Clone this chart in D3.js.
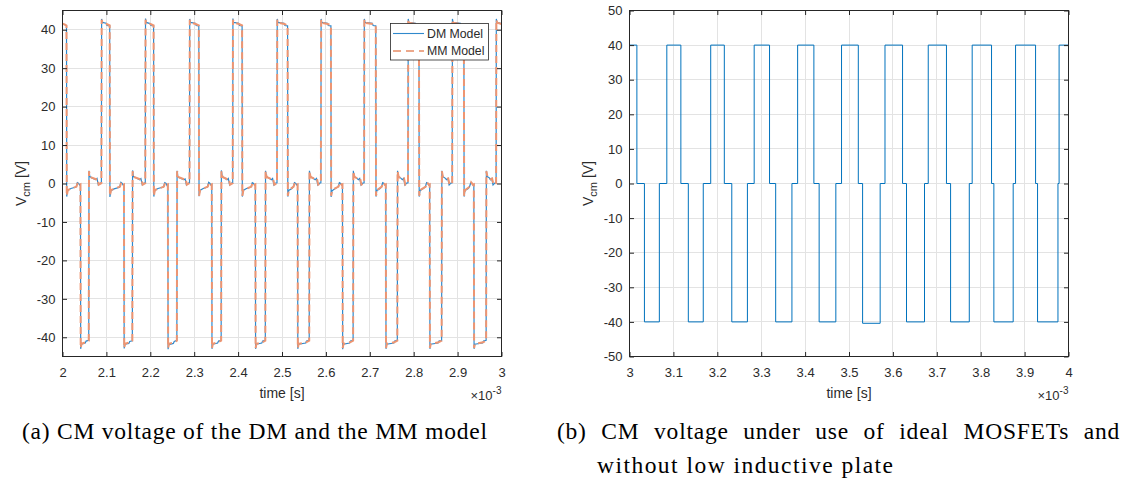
<!DOCTYPE html>
<html>
<head>
<meta charset="utf-8">
<script src="https://cdn.jsdelivr.net/npm/d3@7"></script>
<style>
  html, body { margin: 0; padding: 0; background: #fff; }
  svg { display: block; }
</style>
</head>
<body>
<svg id="fig" width="1136" height="482"></svg>
<script>
// ---------------------------------------------------------------
// Panel (a): common-mode voltage, DM model vs MM model
// time in ms (axis shown as x 10^-3 s), voltage in V
// ---------------------------------------------------------------
const dmModel = [
  [2.0000, 41.5], [2.0060, 41.3],
  [2.0091, 41.0], [2.0096, -3.4], [2.0116, -1.8], [2.0191, -1.3], [2.0309, -0.9], [2.0339, 0.2], [2.0369, 0.0], [2.0389, -0.4], [2.0409, -0.3],
  [2.0414, -43.0], [2.0429, -41.8], [2.0518, -41.5], [2.0538, -41.0], [2.0598, -40.8],
  [2.0603, 3.3], [2.0623, 1.8], [2.0678, 1.4], [2.0756, 1.0], [2.0786, 1.3], [2.0816, -0.4], [2.0856, 0.1], [2.0886, 0.2],
  [2.0891, 42.8], [2.0906, 41.9], [2.0995, 41.7], [2.1015, 41.1],
  [2.1075, 41.0], [2.1080, -3.5], [2.1100, -1.9], [2.1175, -1.4], [2.1300, -1.0], [2.1330, 0.3], [2.1360, 0.0], [2.1380, -0.4], [2.1400, -0.3],
  [2.1405, -42.9], [2.1420, -41.8], [2.1511, -41.6], [2.1531, -41.1], [2.1591, -40.9],
  [2.1596, 3.4], [2.1616, 1.8], [2.1671, 1.5], [2.1756, 1.0], [2.1786, 1.3], [2.1816, -0.3], [2.1856, 0.1], [2.1886, 0.2],
  [2.1891, 42.9], [2.1906, 41.9], [2.1995, 41.6], [2.2015, 41.1],
  [2.2075, 41.0], [2.2080, -3.4], [2.2100, -1.8], [2.2175, -1.3], [2.2300, -0.9], [2.2330, 0.2], [2.2360, 0.0], [2.2380, -0.5], [2.2400, -0.3],
  [2.2405, -43.1], [2.2420, -41.9], [2.2525, -41.6], [2.2545, -41.1], [2.2605, -40.8],
  [2.2610, 3.3], [2.2630, 1.7], [2.2685, 1.4], [2.2763, 1.0], [2.2793, 1.2], [2.2823, -0.4], [2.2863, 0.1], [2.2893, 0.2],
  [2.2898, 42.8], [2.2913, 41.9], [2.3025, 41.7], [2.3045, 41.1],
  [2.3105, 41.0], [2.3110, -3.3], [2.3130, -1.8], [2.3205, -1.3], [2.3300, -0.9], [2.3330, 0.3], [2.3360, 0.0], [2.3380, -0.4], [2.3400, -0.3],
  [2.3405, -43.0], [2.3420, -41.8], [2.3534, -41.5], [2.3554, -41.0], [2.3614, -40.8],
  [2.3619, 3.4], [2.3639, 1.8], [2.3694, 1.4], [2.3747, 1.0], [2.3777, 1.3], [2.3807, -0.4], [2.3847, 0.1], [2.3877, 0.2],
  [2.3882, 42.9], [2.3897, 41.9], [2.4011, 41.7], [2.4031, 41.1],
  [2.4091, 41.0], [2.4096, -3.4], [2.4116, -1.8], [2.4191, -1.3], [2.4293, -0.9], [2.4323, 0.2], [2.4353, 0.0], [2.4373, -0.4], [2.4393, -0.3],
  [2.4398, -43.0], [2.4413, -41.8], [2.4540, -41.5], [2.4560, -41.0], [2.4620, -40.8],
  [2.4625, 3.3], [2.4645, 1.8], [2.4700, 1.4], [2.4756, 1.0], [2.4786, 1.3], [2.4816, -0.4], [2.4856, 0.1], [2.4886, 0.2],
  [2.4891, 42.8], [2.4906, 41.9], [2.5047, 41.7], [2.5067, 41.1],
  [2.5127, 41.0], [2.5132, -3.4], [2.5152, -1.8], [2.5227, -1.3], [2.5255, -0.9], [2.5285, 0.2], [2.5315, 0.0], [2.5335, -0.4], [2.5355, -0.3],
  [2.5360, -43.0], [2.5375, -41.8], [2.5540, -41.5], [2.5560, -41.0], [2.5620, -40.8],
  [2.5625, 3.3], [2.5645, 1.8], [2.5700, 1.4], [2.5756, 1.0], [2.5786, 1.3], [2.5816, -0.4], [2.5856, 0.1], [2.5886, 0.2],
  [2.5891, 42.8], [2.5906, 41.9], [2.6034, 41.7], [2.6054, 41.1],
  [2.6114, 41.0], [2.6119, -3.5], [2.6139, -1.9], [2.6214, -1.3], [2.6277, -0.9], [2.6307, 0.2], [2.6337, 0.0], [2.6357, -0.4], [2.6377, -0.3],
  [2.6382, -43.1], [2.6397, -41.8], [2.6540, -41.5], [2.6560, -41.0], [2.6620, -40.8],
  [2.6625, 3.3], [2.6645, 1.8], [2.6700, 1.4], [2.6740, 1.0], [2.6770, 1.3], [2.6800, -0.4], [2.6840, 0.1], [2.6870, 0.2],
  [2.6875, 42.8], [2.6890, 41.9], [2.7056, 41.7], [2.7076, 41.1],
  [2.7136, 41.0], [2.7141, -3.4], [2.7161, -1.8], [2.7236, -1.3], [2.7264, -0.9], [2.7294, 0.2], [2.7324, 0.0], [2.7344, -0.4], [2.7364, -0.3],
  [2.7369, -43.0], [2.7384, -41.8], [2.7547, -41.5], [2.7567, -41.0], [2.7627, -40.8],
  [2.7632, 3.3], [2.7652, 1.8], [2.7707, 1.4], [2.7740, 1.0], [2.7770, 1.3], [2.7800, -0.4], [2.7840, 0.1], [2.7870, 0.2],
  [2.7875, 42.8], [2.7890, 41.9], [2.8040, 41.7], [2.8060, 41.1],
  [2.8120, 41.0], [2.8125, -3.4], [2.8145, -1.8], [2.8220, -1.3], [2.8264, -0.9], [2.8294, 0.2], [2.8324, 0.0], [2.8344, -0.4], [2.8364, -0.3],
  [2.8369, -43.0], [2.8384, -41.8], [2.8556, -41.5], [2.8576, -41.0], [2.8636, -40.8],
  [2.8641, 3.3], [2.8661, 1.8], [2.8716, 1.4], [2.8747, 1.0], [2.8777, 1.3], [2.8807, -0.4], [2.8847, 0.1], [2.8877, 0.2],
  [2.8882, 42.8], [2.8897, 41.9], [2.9063, 41.7], [2.9083, 41.1],
  [2.9143, 41.0], [2.9148, -3.4], [2.9168, -1.8], [2.9243, -1.3], [2.9270, -0.9], [2.9300, 0.2], [2.9330, 0.0], [2.9350, -0.4], [2.9370, -0.3],
  [2.9375, -43.0], [2.9390, -41.8], [2.9570, -41.5], [2.9590, -41.0], [2.9650, -40.8],
  [2.9655, 3.3], [2.9675, 1.8], [2.9730, 1.4], [2.9747, 1.0], [2.9777, 1.3], [2.9807, -0.4], [2.9847, 0.1], [2.9877, 0.2],
  [2.9882, 42.8], [2.9897, 41.9], [3.0000, 41.6]
];

const mmModel = [
  [2.0000, 41.6], [2.0060, 41.3],
  [2.0091, 41.1], [2.0097, -3.2], [2.0121, -1.7], [2.0319, -0.8], [2.0349, 0.3], [2.0389, -0.3], [2.0409, -0.2],
  [2.0415, -42.8], [2.0434, -41.7], [2.0528, -41.3], [2.0598, -40.9],
  [2.0604, 3.2], [2.0628, 1.7], [2.0766, 1.1], [2.0796, 1.3], [2.0826, -0.3], [2.0886, 0.1],
  [2.0892, 42.6], [2.0911, 41.8], [2.1005, 41.5],
  [2.1075, 41.1], [2.1081, -3.2], [2.1105, -1.7], [2.1310, -0.8], [2.1340, 0.3], [2.1380, -0.3], [2.1400, -0.2],
  [2.1406, -42.8], [2.1425, -41.7], [2.1521, -41.3], [2.1591, -40.9],
  [2.1597, 3.2], [2.1621, 1.7], [2.1766, 1.1], [2.1796, 1.3], [2.1826, -0.3], [2.1886, 0.1],
  [2.1892, 42.6], [2.1911, 41.8], [2.2005, 41.5],
  [2.2075, 41.1], [2.2081, -3.2], [2.2105, -1.7], [2.2310, -0.8], [2.2340, 0.3], [2.2380, -0.3], [2.2400, -0.2],
  [2.2406, -42.8], [2.2425, -41.7], [2.2535, -41.3], [2.2605, -40.9],
  [2.2611, 3.2], [2.2635, 1.7], [2.2773, 1.1], [2.2803, 1.3], [2.2833, -0.3], [2.2893, 0.1],
  [2.2899, 42.6], [2.2918, 41.8], [2.3035, 41.5],
  [2.3105, 41.1], [2.3111, -3.2], [2.3135, -1.7], [2.3310, -0.8], [2.3340, 0.3], [2.3380, -0.3], [2.3400, -0.2],
  [2.3406, -42.8], [2.3425, -41.7], [2.3544, -41.3], [2.3614, -40.9],
  [2.3620, 3.2], [2.3644, 1.7], [2.3757, 1.1], [2.3787, 1.3], [2.3817, -0.3], [2.3877, 0.1],
  [2.3883, 42.6], [2.3902, 41.8], [2.4021, 41.5],
  [2.4091, 41.1], [2.4097, -3.2], [2.4121, -1.7], [2.4303, -0.8], [2.4333, 0.3], [2.4373, -0.3], [2.4393, -0.2],
  [2.4399, -42.8], [2.4418, -41.7], [2.4550, -41.3], [2.4620, -40.9],
  [2.4626, 3.2], [2.4650, 1.7], [2.4766, 1.1], [2.4796, 1.3], [2.4826, -0.3], [2.4886, 0.1],
  [2.4892, 42.6], [2.4911, 41.8], [2.5057, 41.5],
  [2.5127, 41.1], [2.5133, -3.2], [2.5157, -1.7], [2.5265, -0.8], [2.5295, 0.3], [2.5335, -0.3], [2.5355, -0.2],
  [2.5361, -42.8], [2.5380, -41.7], [2.5550, -41.3], [2.5620, -40.9],
  [2.5626, 3.2], [2.5650, 1.7], [2.5766, 1.1], [2.5796, 1.3], [2.5826, -0.3], [2.5886, 0.1],
  [2.5892, 42.6], [2.5911, 41.8], [2.6044, 41.5],
  [2.6114, 41.1], [2.6120, -3.2], [2.6144, -1.7], [2.6287, -0.8], [2.6317, 0.3], [2.6357, -0.3], [2.6377, -0.2],
  [2.6383, -42.8], [2.6402, -41.7], [2.6550, -41.3], [2.6620, -40.9],
  [2.6626, 3.2], [2.6650, 1.7], [2.6750, 1.1], [2.6780, 1.3], [2.6810, -0.3], [2.6870, 0.1],
  [2.6876, 42.6], [2.6895, 41.8], [2.7066, 41.5],
  [2.7136, 41.1], [2.7142, -3.2], [2.7166, -1.7], [2.7274, -0.8], [2.7304, 0.3], [2.7344, -0.3], [2.7364, -0.2],
  [2.7370, -42.8], [2.7389, -41.7], [2.7557, -41.3], [2.7627, -40.9],
  [2.7633, 3.2], [2.7657, 1.7], [2.7750, 1.1], [2.7780, 1.3], [2.7810, -0.3], [2.7870, 0.1],
  [2.7876, 42.6], [2.7895, 41.8], [2.8050, 41.5],
  [2.8120, 41.1], [2.8126, -3.2], [2.8150, -1.7], [2.8274, -0.8], [2.8304, 0.3], [2.8344, -0.3], [2.8364, -0.2],
  [2.8370, -42.8], [2.8389, -41.7], [2.8566, -41.3], [2.8636, -40.9],
  [2.8642, 3.2], [2.8666, 1.7], [2.8757, 1.1], [2.8787, 1.3], [2.8817, -0.3], [2.8877, 0.1],
  [2.8883, 42.6], [2.8902, 41.8], [2.9073, 41.5],
  [2.9143, 41.1], [2.9149, -3.2], [2.9173, -1.7], [2.9280, -0.8], [2.9310, 0.3], [2.9350, -0.3], [2.9370, -0.2],
  [2.9376, -42.8], [2.9395, -41.7], [2.9580, -41.3], [2.9650, -40.9],
  [2.9656, 3.2], [2.9680, 1.7], [2.9757, 1.1], [2.9787, 1.3], [2.9817, -0.3], [2.9877, 0.1],
  [2.9883, 42.6], [2.9902, 41.8], [3.0000, 41.5]
];

const seriesNames = ["DM Model", "MM Model"];
const xTicksA = [2, 2.1, 2.2, 2.3, 2.4, 2.5, 2.6, 2.7, 2.8, 2.9, 3];
const yTicksA = [-40, -30, -20, -10, 0, 10, 20, 30, 40];

// ---------------------------------------------------------------
// Panel (b): ideal MOSFETs, no low inductive plate
// switching instants (ms) and the level held from each instant on
// ---------------------------------------------------------------
const idealTime = [
  3.0000, 3.0168, 3.0340, 3.0680, 3.0850, 3.1170, 3.1340, 3.1680,
  3.1850, 3.2160, 3.2330, 3.2686, 3.2840, 3.3190, 3.3330, 3.3700,
  3.3830, 3.4200, 3.4320, 3.4700, 3.4830, 3.5212, 3.5310, 3.5710,
  3.5820, 3.6220, 3.6310, 3.6720, 3.6805, 3.7220, 3.7314, 3.7740,
  3.7806, 3.8247, 3.8300, 3.8740, 3.8794, 3.9250, 3.9295, 3.9760,
  3.9786, 4.0000
];
const idealVolt = [
  40, 0, -40, 0, 40, 0, -40, 0,
  40, 0, -40, 0, 40, 0, -40, 0,
  40, 0, -40, 0, 40, 0, -40.4, 0,
  40, 0, -40, 0, 40, 0, -40, 0,
  40, 0, -40, 0, 40, 0, -40, 0,
  40, 40
];
const xTicksB = [3, 3.1, 3.2, 3.3, 3.4, 3.5, 3.6, 3.7, 3.8, 3.9, 4];
const yTicksB = [-50, -40, -30, -20, -10, 0, 10, 20, 30, 40, 50];

const captionA = "(a) CM voltage of the DM and the MM model";
const captionB = ["(b) CM voltage under use of ideal MOSFETs and", "without low inductive plate"];

// ---------------------------------------------------------------
const svg = d3.select("#fig");
const SANS = '"Liberation Sans", Arial, Helvetica, sans-serif';
const SERIF = '"Liberation Serif", "Times New Roman", serif';
const AXIS = "#262626";
const TEXT = "#2b2b2b";
const GRID = "#e3e3e3";
const BLUE = "#0072BD";
const BLUE_LINE = "#2f89cc";
const ORANGE = "#D95319";
const ORANGE_LINE = "#ee9571";

function panel(cfg) {
  const g = svg.append("g");
  const x = d3.scaleLinear().domain(cfg.xDomain).range([cfg.left, cfg.right]);
  const y = d3.scaleLinear().domain(cfg.yDomain).range([cfg.bottom, cfg.top]);
  const crisp = v => Math.round(v - 0.5) + 0.5;

  // grid
  const grid = g.append("g").attr("stroke", GRID).attr("stroke-width", 1);
  grid.selectAll("line.gx").data(cfg.xTicks).join("line")
    .attr("x1", d => crisp(x(d))).attr("x2", d => crisp(x(d)))
    .attr("y1", cfg.top).attr("y2", cfg.bottom);
  grid.selectAll("line.gy").data(cfg.yTicks).join("line")
    .attr("y1", d => crisp(y(d))).attr("y2", d => crisp(y(d)))
    .attr("x1", cfg.left).attr("x2", cfg.right);

  // data
  const clipId = cfg.id + "-clip";
  svg.append("defs").append("clipPath").attr("id", clipId)
    .append("rect").attr("x", cfg.left).attr("y", cfg.top)
    .attr("width", cfg.right - cfg.left).attr("height", cfg.bottom - cfg.top);
  const plot = g.append("g").attr("clip-path", `url(#${clipId})`);
  cfg.draw(plot, x, y);

  // axes (ticks pointing inward on all four sides)
  const fmt = d => String(d);
  const styleAxis = sel => {
    sel.select(".domain").remove();
    sel.selectAll(".tick line").attr("stroke", AXIS).attr("stroke-width", 1);
    sel.selectAll(".tick text").attr("fill", TEXT).attr("font-family", SANS).attr("font-size", 13);
  };
  g.append("g").attr("transform", `translate(0,${cfg.bottom})`)
    .call(d3.axisBottom(x).tickValues(cfg.xTicks).tickFormat(fmt)
      .tickSizeInner(-4.5).tickSizeOuter(0).tickPadding(11)).call(styleAxis);
  g.append("g").attr("transform", `translate(0,${cfg.top})`)
    .call(d3.axisTop(x).tickValues(cfg.xTicks).tickFormat("")
      .tickSizeInner(-4.5).tickSizeOuter(0)).call(styleAxis);
  g.append("g").attr("transform", `translate(${cfg.left},0)`)
    .call(d3.axisLeft(y).tickValues(cfg.yTicks).tickFormat(fmt)
      .tickSizeInner(-4.5).tickSizeOuter(0).tickPadding(7)).call(styleAxis);
  g.append("g").attr("transform", `translate(${cfg.right},0)`)
    .call(d3.axisRight(y).tickValues(cfg.yTicks).tickFormat("")
      .tickSizeInner(-4.5).tickSizeOuter(0)).call(styleAxis);

  // box
  g.append("rect").attr("x", cfg.left).attr("y", cfg.top)
    .attr("width", cfg.right - cfg.left).attr("height", cfg.bottom - cfg.top)
    .attr("fill", "none").attr("stroke", AXIS).attr("stroke-width", 1);

  // axis labels
  const cx = (cfg.left + cfg.right) / 2;
  g.append("text").attr("x", cx).attr("y", cfg.bottom + 41)
    .attr("text-anchor", "middle").attr("font-family", SANS).attr("font-size", 14)
    .attr("fill", TEXT).text("time [s]");
  const ex = g.append("text").attr("x", cfg.right).attr("y", cfg.bottom + 43)
    .attr("text-anchor", "end").attr("font-family", SANS).attr("font-size", 13).attr("fill", TEXT);
  ex.append("tspan").text("\u00d710");
  ex.append("tspan").attr("dy", -5.5).attr("font-size", 10).text("-3");
  const cy = (cfg.top + cfg.bottom) / 2;
  const yl = g.append("text")
    .attr("transform", `translate(${cfg.left - 37},${cy}) rotate(-90)`)
    .attr("text-anchor", "middle").attr("font-family", SANS).attr("font-size", 14).attr("fill", TEXT);
  yl.append("tspan").text("V");
  yl.append("tspan").attr("dy", 4).attr("font-size", 11).text("cm");
  yl.append("tspan").attr("dy", -4).text(" [V]");

  return { g, x, y };
}

// panel (a)
const pa = panel({
  id: "pa", left: 62.5, right: 501.5, top: 10.5, bottom: 356.5,
  xDomain: [2, 3], yDomain: [-45, 45], xTicks: xTicksA, yTicks: yTicksA,
  draw: (plot, x, y) => {
    const line = d3.line().x(d => x(d[0])).y(d => y(d[1]));
    plot.append("path").datum(dmModel).attr("d", line)
      .attr("fill", "none").attr("stroke", BLUE_LINE).attr("stroke-width", 1.2);
    plot.append("path").datum(mmModel).attr("d", line)
      .attr("fill", "none").attr("stroke", ORANGE_LINE).attr("stroke-width", 2)
      .attr("stroke-dasharray", "7,4");
  }
});

// legend of panel (a)
const lg = pa.g.append("g");
lg.append("rect").attr("x", 390.5).attr("y", 23.5).attr("width", 98).attr("height", 36.5)
  .attr("fill", "#fff").attr("stroke", AXIS).attr("stroke-width", 0.8);
const legendStyles = [
  { stroke: BLUE_LINE, width: 1.1, dash: null },
  { stroke: ORANGE, width: 1.1, dash: "8,5" }
];
seriesNames.forEach((name, i) => {
  const yy = 33.5 + i * 17.5;
  const st = legendStyles[i];
  lg.append("line").attr("x1", 393).attr("x2", 424).attr("y1", yy).attr("y2", yy)
    .attr("stroke", st.stroke).attr("stroke-width", st.width)
    .attr("stroke-dasharray", st.dash);
  lg.append("text").attr("x", 427).attr("y", yy + 4.3).attr("font-family", SANS)
    .attr("font-size", 12.3).attr("fill", TEXT).text(name);
});

// panel (b)
panel({
  id: "pb", left: 629.5, right: 1068.5, top: 10.5, bottom: 356.5,
  xDomain: [3, 4], yDomain: [-50, 50], xTicks: xTicksB, yTicks: yTicksB,
  draw: (plot, x, y) => {
    const line = d3.line().curve(d3.curveStepAfter)
      .x((d, i) => x(idealTime[i])).y((d, i) => y(idealVolt[i]));
    plot.append("path").datum(idealTime).attr("d", line)
      .attr("fill", "none").attr("stroke", BLUE).attr("stroke-width", 1);
  }
});

// captions: a line set at its natural width is letter-spaced to the measured
// width; a justified line keeps that letter spacing and widens its word gaps
function captionText(str, x, y) {
  return svg.append("text").attr("x", x).attr("y", y)
    .attr("font-family", SERIF).attr("font-size", 23.5).attr("fill", "#000").text(str);
}
function fitLetters(t, str, width) {
  const natural = t.node().getComputedTextLength();
  const ls = (width - natural) / (str.length - 1);
  t.attr("letter-spacing", ls);
  return ls;
}
const capA = captionText(captionA, 22, 439);
const ls = fitLetters(capA, captionA, 465);
const capB2 = captionText(captionB[1], 597, 473);
fitLetters(capB2, captionB[1], 296);
const capB1 = captionText(captionB[0], 557, 439).attr("letter-spacing", ls);
{
  const natural = capB1.node().getComputedTextLength();
  const gaps = (captionB[0].match(/ /g) || []).length;
  capB1.attr("word-spacing", Math.max(0, (563 - natural) / gaps));
}
</script>
</body>
</html>
